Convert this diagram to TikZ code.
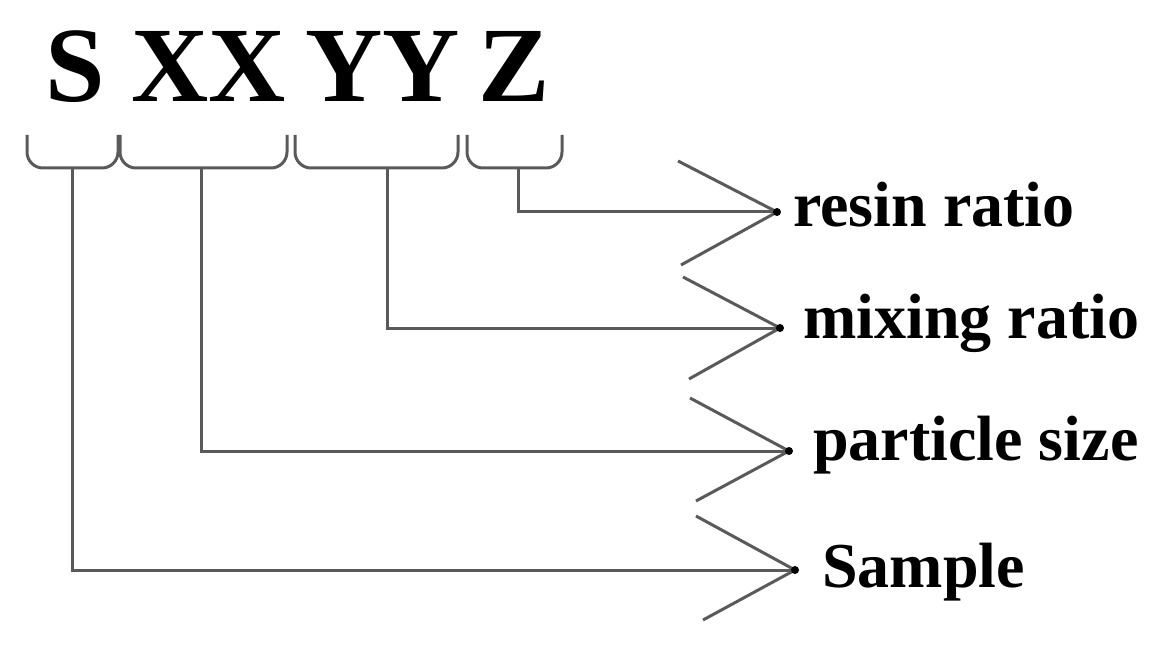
\documentclass[tikz,border=0pt]{standalone}
\usepackage{fontspec}
\setmainfont{Liberation Serif}
\definecolor{linegray}{RGB}{90,90,90}
\begin{document}
\begin{tikzpicture}[x=1pt,y=-1pt,
  big/.style={inner sep=0pt,anchor=base,font=\fontsize{107}{110}\selectfont\bfseries},
  lab/.style={inner sep=0pt,anchor=base west,font=\fontsize{64}{66}\selectfont\bfseries},
  conn/.style={draw=linegray,line width=3pt},
  bracestyle/.style={draw=linegray,line width=3pt,rounded corners=16pt},
  vdot/.style={fill=black,circle,inner sep=0pt,minimum size=8pt}]
\useasboundingbox (0,0) rectangle (1165,647);

% top code letters
\node[big] (s) at (75,102) {S};
\node[big] (xx) at (209,102) {XX};
\node[big] (yy) at (383,102) {YY};
\node[big] (z) at (514,102) {Z};

% braces
\draw[bracestyle] (27,135) -- (27,168) -- (118,168) -- (118,135);
\draw[bracestyle] (120,135) -- (120,168) -- (287,168) -- (287,135);
\draw[bracestyle] (295,135) -- (295,168) -- (458,168) -- (458,135);
\draw[bracestyle] (467,135) -- (467,168) -- (562,168) -- (562,135);

% brace stem roots
\coordinate (sb) at (72,168);
\coordinate (xb) at (201,168);
\coordinate (yb) at (387,168);
\coordinate (zb) at (518,168);

% chevron vertices
\coordinate (zv) at (777,212);
\coordinate (yv) at (780,328);
\coordinate (xv) at (789,451);
\coordinate (sv) at (795,570);

% connectors
\draw[conn] (zb) |- (zv);
\draw[conn] (yb) |- (yv);
\draw[conn] (xb) |- (xv);
\draw[conn] (sb) |- (sv);

% chevrons
\coordinate (zt) at (678,161); \coordinate (zd) at (681,265);
\coordinate (yt) at (683,277); \coordinate (yd) at (689,379);
\coordinate (xt) at (690,398); \coordinate (xd) at (696,501);
\coordinate (st) at (696,516); \coordinate (sd) at (703,620);
\draw[conn] (zt) -- (zv) -- (zd);
\draw[conn] (yt) -- (yv) -- (yd);
\draw[conn] (xt) -- (xv) -- (xd);
\draw[conn] (st) -- (sv) -- (sd);

\node[vdot] (zdot) at (zv) {};
\node[vdot] (ydot) at (yv) {};
\node[vdot] (xdot) at (xv) {};
\node[vdot] (sdot) at (sv) {};

% labels
\node[lab] (resin) at (793,227) {resin ratio};
\node[lab] (mixing) at (803,338) {mixing ratio};
\node[lab] (particle) at (813,460) {particle size};
\node[lab] (sample) at (822,587) {Sample};
\end{tikzpicture}
\end{document}
